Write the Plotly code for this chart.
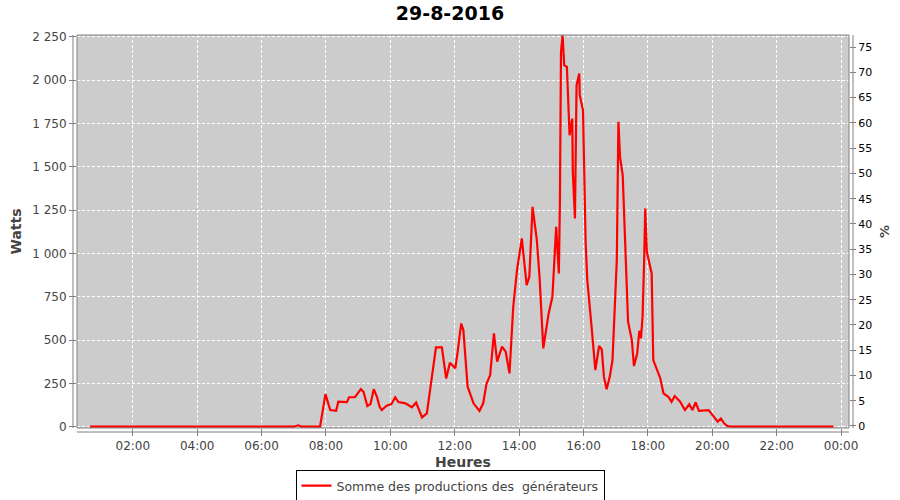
import plotly.graph_objects as go

day = "2016-08-29"
chart_title = "29-8-2016"
series_name = "Somme des productions des  générateurs"

times = [
    "00:40", "07:00", "07:08", "07:15", "07:49",
    "07:59", "08:08", "08:19", "08:23", "08:39", "08:43", "08:54",
    "09:05", "09:10", "09:17", "09:23", "09:29", "09:35", "09:40", "09:44", "09:53",
    "10:02", "10:09", "10:15", "10:28", "10:40", "10:48", "10:52", "10:59",
    "11:08", "11:17", "11:25", "11:36", "11:44", "11:51",
    "12:01", "12:05", "12:12", "12:16", "12:24", "12:35", "12:46", "12:53", "12:59",
    "13:06", "13:13", "13:19", "13:28", "13:35", "13:42", "13:49", "13:56",
    "14:05", "14:14", "14:19", "14:25", "14:33", "14:38", "14:45", "14:55",
    "15:02", "15:09", "15:14", "15:16", "15:18", "15:21", "15:24", "15:29", "15:34",
    "15:39", "15:40", "15:44", "15:47", "15:52", "15:53", "15:59",
    "16:04", "16:07", "16:15", "16:22", "16:29", "16:34", "16:38", "16:43", "16:49",
    "16:54", "16:58",
    "17:02", "17:05", "17:08", "17:13", "17:19", "17:23", "17:30", "17:34", "17:40",
    "17:44", "17:47", "17:50", "17:53", "17:55", "17:58",
    "18:04", "18:07", "18:10", "18:16", "18:23", "18:29", "18:38", "18:44", "18:50",
    "19:00", "19:09", "19:17", "19:23", "19:29", "19:35", "19:53",
    "20:01", "20:10", "20:16", "20:22", "20:28", "20:35", "23:46",
]
watts = [
    0, 0, 8, 0, 0,
    188, 96, 92, 144, 142, 170, 170,
    217, 202, 119, 131, 217, 173, 115, 96, 121,
    131, 170, 142, 135, 112, 139, 106, 54,
    77, 279, 458, 458, 279, 369,
    337, 423, 596, 558, 231, 135, 91, 135, 246,
    298, 539, 375, 462, 433, 308, 692, 904,
    1087, 817, 865, 1269, 1077, 865, 452, 654,
    750, 1154, 885, 1300, 2163, 2260, 2087, 2077, 1683,
    1779, 1471, 1202, 1971, 2039, 1914, 1827,
    1058, 846, 577, 327, 466, 446, 289, 216, 289,
    385, 673,
    962, 1760, 1558, 1452, 962, 606, 500, 350, 423,
    554, 510, 635, 962, 1260, 1010,
    914, 885, 385, 337, 280, 193, 173, 144, 177,
    144, 96, 129, 96, 141, 92, 96,
    67, 29, 48, 20, 4, 0, 0,
]

x_range = [day + " 00:16", "2016-08-30 00:14:45"]
watts_range = [-7.5, 2261.5]
pct_range = [-0.4, 77.4]

x = [f"{day} {t}" for t in times]

fig = go.Figure()
fig.add_trace(go.Scatter(
    x=x, y=watts, mode="lines", name=series_name,
    line=dict(color="#ff0000", width=2.2),
))
fig.add_trace(go.Scatter(
    x=[x[0]], y=[0], yaxis="y2", mode="lines", showlegend=False,
    hoverinfo="skip", line=dict(width=0, color="rgba(0,0,0,0)"),
))

axis_col = "#808080"
tick_font = dict(family="DejaVu Sans", size=12, color="#444444")
grid_dash = "3px,2px"

fig.update_layout(
    width=900, height=500,
    margin=dict(l=77, r=51, t=35, b=72),
    paper_bgcolor="white",
    plot_bgcolor="#cccccc",
    separators=", ",
    title=dict(text=chart_title, x=0.5, xanchor="center", y=0.974, yanchor="middle",
               font=dict(family="DejaVu Sans", size=19, color="black", weight="bold")),
    xaxis=dict(
        type="date", range=x_range, tickformat="%H:%M", dtick=2 * 3600 * 1000,
        tick0=day + " 00:00", automargin=False,
        showgrid=True, gridcolor="white", griddash=grid_dash, gridwidth=1,
        ticks="outside", ticklen=7, tickcolor=axis_col, tickfont=tick_font,
        showline=False, zeroline=False,
        title=dict(text="Heures", standoff=5,
                   font=dict(family="DejaVu Sans", size=14, color="#444444", weight="bold")),
    ),
    yaxis=dict(
        range=watts_range, dtick=250, tick0=0, separatethousands=True, automargin=False,
        showgrid=True, gridcolor="white", griddash=grid_dash, gridwidth=1,
        ticks="outside", ticklen=7, tickcolor=axis_col, tickfont=tick_font,
        showline=False, zeroline=False,
        title=dict(text="Watts", standoff=7,
                   font=dict(family="DejaVu Sans", size=14, color="#444444", weight="bold")),
    ),
    yaxis2=dict(
        overlaying="y", side="right", range=pct_range, dtick=5, tick0=0, automargin=False,
        showgrid=False, zeroline=False, showline=False,
        ticks="outside", ticklen=6, tickcolor=axis_col,
        tickfont=dict(family="DejaVu Sans", size=11, color="black"),
        title=dict(text="%", standoff=8,
                   font=dict(family="DejaVu Sans", size=13, color="#444444", weight="bold")),
    ),
    showlegend=True,
    legend=dict(
        orientation="h", x=0.5, xanchor="center", xref="container",
        y=(500 - 486) / 500, yanchor="middle", yref="container",
        bordercolor="black", borderwidth=1, bgcolor="white",
        font=dict(family="DejaVu Sans", size=12.5, color="#444444"),
        itemwidth=30,
    ),
)

# plot outline and offset axis lines (JFreeChart style)
pw = 900 - 77 - 51
ph = 500 - 35 - 72
fig.add_shape(type="rect", xref="paper", yref="paper", x0=0, x1=1, y0=0, y1=1,
              line=dict(color=axis_col, width=1), layer="above")
fig.add_shape(type="line", xref="paper", yref="paper", x0=-4 / pw, x1=-4 / pw, y0=0, y1=1,
              line=dict(color=axis_col, width=1))
fig.add_shape(type="line", xref="paper", yref="paper", x0=1 + 4 / pw, x1=1 + 4 / pw, y0=0, y1=1,
              line=dict(color=axis_col, width=1))
fig.add_shape(type="line", xref="paper", yref="paper", x0=0, x1=1, y0=-4 / ph, y1=-4 / ph,
              line=dict(color=axis_col, width=1))

fig.write_html("out.html", config={"displayModeBar": False},
               post_script="document.body.style.margin='0';")
